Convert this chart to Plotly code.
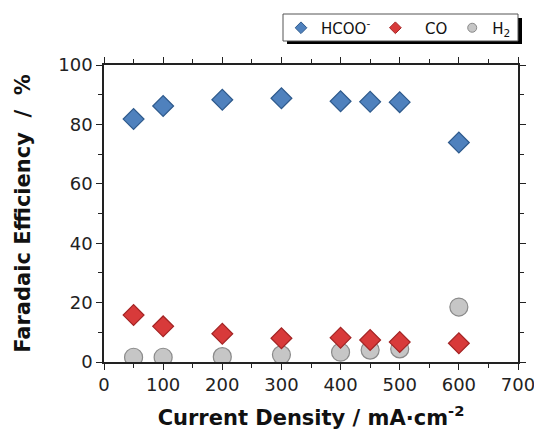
import plotly.graph_objects as go

current_density = [50, 100, 200, 300, 400, 450, 500, 600]
fe_hcoo = [81.8, 86.2, 88.3, 88.8, 87.8, 87.6, 87.5, 73.9]
fe_co = [15.8, 12.0, 9.5, 8.0, 8.2, 7.4, 6.7, 6.3]
fe_h2 = [1.6, 1.6, 1.8, 2.4, 3.3, 4.0, 4.4, 18.5]

x_ticks = [0, 100, 200, 300, 400, 500, 600, 700]
y_ticks = [0, 20, 40, 60, 80, 100]

blue, blue_edge = "#4f81bd", "#2e5a8c"
red, red_edge = "#d83a3a", "#a32424"
grey, grey_edge = "#c6c6c6", "#8a8a8a"

# page offset of the figure (default 8px body margin)
OFF = 8
L, R, T, B = 104 - OFF, 24, 65 - OFF, 73
W, H = 542 - OFF, 435 - OFF
PW, PH = W - L - R, H - T - B

fig = go.Figure()
fig.add_trace(go.Scatter(x=current_density, y=fe_h2, mode="markers", showlegend=False,
                         marker=dict(symbol="circle", size=18, color=grey, line=dict(color=grey_edge, width=1.2))))
fig.add_trace(go.Scatter(x=current_density, y=fe_co, mode="markers", showlegend=False,
                         marker=dict(symbol="diamond", size=16, color=red, line=dict(color=red_edge, width=1.2))))
fig.add_trace(go.Scatter(x=current_density, y=fe_hcoo, mode="markers", showlegend=False,
                         marker=dict(symbol="diamond", size=16, color=blue, line=dict(color=blue_edge, width=1.2))))

# legend entries (small markers as in the reference)
fig.add_trace(go.Scatter(x=[None], y=[None], mode="markers", name="HCOO<sup>-</sup>",
                         marker=dict(symbol="diamond", size=9, color=blue, line=dict(color=blue_edge, width=1))))
fig.add_trace(go.Scatter(x=[None], y=[None], mode="markers", name="\u00a0\u00a0CO",
                         marker=dict(symbol="diamond", size=9, color=red, line=dict(color=red_edge, width=1))))
fig.add_trace(go.Scatter(x=[None], y=[None], mode="markers", name="H<sub>2</sub>",
                         marker=dict(symbol="circle", size=9, color=grey, line=dict(color=grey_edge, width=1))))

axis_common = dict(
    showline=True, linecolor="#222", linewidth=1.6, mirror="ticks",
    ticks="outside", ticklen=6, tickwidth=1.4, tickcolor="#222",
    showgrid=False, zeroline=False, automargin=False,
    tickfont=dict(family="DejaVu Sans", size=18, color="#222"),
)

fig.update_xaxes(range=[0, 700], tickvals=x_ticks,
                 minor=dict(dtick=50, ticks="outside", ticklen=4, tickwidth=1.2, tickcolor="#222"),
                 title=dict(text="<b>Current Density / mA·cm<sup>-2</sup></b>",
                            font=dict(family="DejaVu Sans", size=21, color="#111"), standoff=16),
                 **axis_common)
fig.update_yaxes(range=[0, 100], tickvals=y_ticks,
                 minor=dict(dtick=10, ticks="outside", ticklen=4, tickwidth=1.2, tickcolor="#222"),
                 title=dict(text="<b>Faradaic Efficiency\u00a0\u00a0/\u00a0\u00a0%</b>",
                            font=dict(family="DejaVu Sans", size=21, color="#111"), standoff=22),
                 **axis_common)

def px_to_paper_x(px):
    return (px - 104) / PW

def px_to_paper_y(py):
    return (362 - py) / PH

# legend frame with drop shadow
fig.add_shape(type="rect", xref="paper", yref="paper",
              x0=px_to_paper_x(287), x1=px_to_paper_x(522),
              y0=px_to_paper_y(44), y1=px_to_paper_y(18),
              fillcolor="black", line=dict(width=0))
fig.add_shape(type="rect", xref="paper", yref="paper",
              x0=px_to_paper_x(283), x1=px_to_paper_x(518),
              y0=px_to_paper_y(41), y1=px_to_paper_y(14),
              fillcolor="white", line=dict(color="#555", width=1))

fig.update_layout(
    width=W, height=H,
    margin=dict(l=L, r=R, t=T, b=B, autoexpand=False),
    plot_bgcolor="white", paper_bgcolor="white",
    font=dict(family="DejaVu Sans", color="#222"),
    legend=dict(orientation="h", x=px_to_paper_x(281), xanchor="left",
                y=px_to_paper_y(28), yanchor="middle",
                bgcolor="rgba(0,0,0,0)", borderwidth=0,
                font=dict(family="DejaVu Sans", size=15, color="#111"),
                itemwidth=30, tracegroupgap=0),
)

fig.write_html("out.html")
